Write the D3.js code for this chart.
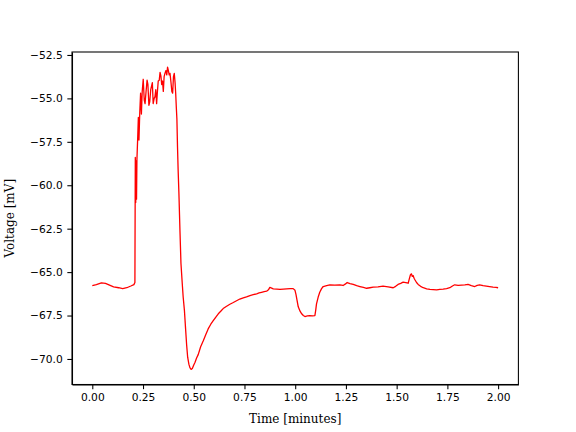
<!DOCTYPE html>
<html>
<head>
<meta charset="utf-8">
<script src="https://cdn.jsdelivr.net/npm/d3@7"></script>
<style>
  html, body { margin: 0; padding: 0; background: #fff; }
  .axis text { font-family: "DejaVu Sans", sans-serif; font-size: 10.67px; fill: #000; }
  .axis path, .axis line { stroke: #000; stroke-width: 1.07px; }
  .label { font-family: "DejaVu Serif", serif; font-size: 12px; fill: #000; }
</style>
</head>
<body>
<div id="chart"></div>
<script>
// membrane potential trace
const timeMin = [
  0.000, 0.020, 0.045, 0.065, 0.085, 0.105, 0.130, 0.150, 0.170, 0.190,
  0.205, 0.210, 0.212, 0.214, 0.216, 0.218, 0.220, 0.224, 0.227, 0.230,
  0.234, 0.238, 0.242, 0.246, 0.251, 0.256, 0.260, 0.265, 0.270, 0.274,
  0.279, 0.283, 0.288, 0.292, 0.296, 0.300, 0.305, 0.309, 0.313, 0.317,
  0.321, 0.325, 0.330, 0.334, 0.338, 0.342, 0.346, 0.350, 0.354, 0.358,
  0.363, 0.367, 0.371, 0.375, 0.379, 0.383, 0.388, 0.392, 0.396, 0.400,
  0.404, 0.408, 0.411, 0.414, 0.417, 0.420, 0.423, 0.427, 0.432, 0.437,
  0.443, 0.448, 0.454, 0.460, 0.465, 0.470, 0.476, 0.481, 0.487, 0.493,
  0.500, 0.506, 0.514, 0.522, 0.534, 0.547, 0.559, 0.571, 0.584, 0.596,
  0.608, 0.621, 0.633, 0.645, 0.660, 0.678, 0.695, 0.711, 0.727, 0.744,
  0.760, 0.777, 0.793, 0.810, 0.822, 0.834, 0.847, 0.859, 0.868, 0.875,
  0.884, 0.892, 0.910, 0.925, 0.942, 0.958, 0.975, 0.990, 0.999, 1.004,
  1.008, 1.015, 1.024, 1.032, 1.040, 1.048, 1.060, 1.072, 1.085, 1.097,
  1.101, 1.105, 1.113, 1.121, 1.130, 1.138, 1.155, 1.171, 1.195, 1.220,
  1.236, 1.248, 1.256, 1.270, 1.286, 1.303, 1.319, 1.336, 1.352, 1.368,
  1.384, 1.408, 1.433, 1.458, 1.483, 1.495, 1.507, 1.520, 1.532, 1.545,
  1.557, 1.562, 1.568, 1.573, 1.577, 1.581, 1.586, 1.590, 1.598, 1.606,
  1.618, 1.631, 1.648, 1.664, 1.680, 1.697, 1.713, 1.729, 1.746, 1.762,
  1.775, 1.786, 1.803, 1.820, 1.836, 1.852, 1.868, 1.885, 1.897, 1.909,
  1.926, 1.942, 1.958, 1.975, 1.990, 2.000
];
const voltageMv = [
  -65.78, -65.72, -65.62, -65.65, -65.75, -65.85, -65.90, -65.95, -65.90, -65.80,
  -65.72, -65.60, -58.40, -61.00, -58.60, -60.80, -58.50, -57.20, -56.10, -57.40,
  -55.80, -54.70, -55.90, -54.60, -53.90, -55.10, -55.30, -54.60, -53.95, -54.20,
  -55.40, -55.20, -54.50, -54.30, -54.10, -55.30, -55.00, -54.90, -54.50, -55.30,
  -54.60, -54.00, -53.95, -53.50, -53.70, -54.20, -54.00, -54.60, -53.75, -53.56,
  -53.40, -53.65, -53.20, -53.40, -53.65, -53.56, -54.10, -54.60, -54.70, -53.75,
  -53.56, -54.10, -54.70, -55.50, -56.20, -57.80, -59.10, -60.50, -62.60, -64.50,
  -65.60, -66.45, -67.20, -68.30, -69.20, -69.90, -70.30, -70.50, -70.60, -70.55,
  -70.35, -70.20, -69.95, -69.75, -69.30, -68.95, -68.60, -68.27, -68.00, -67.80,
  -67.60, -67.40, -67.25, -67.10, -66.98, -66.85, -66.75, -66.65, -66.55, -66.48,
  -66.42, -66.35, -66.30, -66.25, -66.20, -66.16, -66.12, -66.10, -66.02, -65.88,
  -65.92, -65.96, -65.98, -66.00, -65.98, -65.96, -65.95, -65.95, -66.05, -66.30,
  -66.55, -67.00, -67.25, -67.40, -67.50, -67.56, -67.52, -67.50, -67.52, -67.50,
  -67.20, -66.83, -66.45, -66.16, -65.95, -65.83, -65.78, -65.73, -65.75, -65.73,
  -65.77, -65.68, -65.60, -65.66, -65.71, -65.78, -65.83, -65.88, -65.93, -65.90,
  -65.87, -65.85, -65.81, -65.85, -65.90, -65.82, -65.71, -65.65, -65.58, -65.60,
  -65.64, -65.40, -65.15, -65.10, -65.25, -65.20, -65.35, -65.44, -65.60, -65.71,
  -65.82, -65.90, -65.96, -66.00, -66.01, -66.02, -66.00, -65.98, -65.95, -65.90,
  -65.80, -65.73, -65.76, -65.75, -65.74, -65.71, -65.78, -65.83, -65.76, -65.73,
  -65.78, -65.81, -65.84, -65.87, -65.88, -65.90
];
const xTicks = [0, 0.25, 0.5, 0.75, 1, 1.25, 1.5, 1.75, 2];
const yTicks = [-70, -67.5, -65, -62.5, -60, -57.5, -55, -52.5];

(function () {
  // ---- setup ----
  const W = 576, H = 432;
  const margin = { top: 52, right: 57.6, bottom: 47.5, left: 72 };
  const width = W - margin.left - margin.right;
  const height = H - margin.top - margin.bottom;

  const points = timeMin.map((t, i) => ({ t: t, v: voltageMv[i] }));

  const svg = d3.select("#chart").append("svg")
    .attr("width", W)
    .attr("height", H);

  const g = svg.append("g")
    .attr("transform", `translate(${margin.left},${margin.top})`);

  // matplotlib-style 5% padding round the data
  const tExt = d3.extent(timeMin), vExt = d3.extent(voltageMv);
  const tPad = (tExt[1] - tExt[0]) * 0.05, vPad = (vExt[1] - vExt[0]) * 0.05;

  const x = d3.scaleLinear()
    .domain([tExt[0] - tPad, tExt[1] + tPad])
    .range([0, width]);

  const y = d3.scaleLinear()
    .domain([vExt[0] - vPad, vExt[1] + vPad])
    .range([height, 0]);

  // ---- trace ----
  const line = d3.line()
    .x(d => x(d.t))
    .y(d => y(d.v));

  g.append("path")
    .datum(points)
    .attr("fill", "none")
    .attr("stroke", "#ff0000")
    .attr("stroke-width", 1.3)
    .attr("stroke-linejoin", "round")
    .attr("d", line);

  // ---- axes ----
  g.append("g")
    .attr("class", "axis")
    .attr("transform", `translate(0,${height})`)
    .call(d3.axisBottom(x).tickValues(xTicks).tickFormat(d3.format(".2f"))
      .tickSize(4.67).tickPadding(4.67).tickSizeOuter(0));

  g.append("g")
    .attr("class", "axis")
    .call(d3.axisLeft(y).tickValues(yTicks).tickFormat(d3.format(".1f"))
      .tickSize(4.67).tickPadding(4.67).tickSizeOuter(0));

  // frame
  g.append("rect")
    .attr("width", width)
    .attr("height", height)
    .attr("fill", "none")
    .attr("stroke", "#000")
    .attr("stroke-width", 1.07);

  // labels
  g.append("text")
    .attr("class", "label")
    .attr("x", width / 2)
    .attr("y", height + 30)
    .attr("text-anchor", "middle")
    .attr("dominant-baseline", "hanging")
    .text("Time [minutes]");

  svg.append("text")
    .attr("class", "label")
    .attr("transform", `translate(14,${margin.top + height / 2}) rotate(-90)`)
    .attr("text-anchor", "middle")
    .text("Voltage [mV]");
})();
</script>
</body>
</html>
